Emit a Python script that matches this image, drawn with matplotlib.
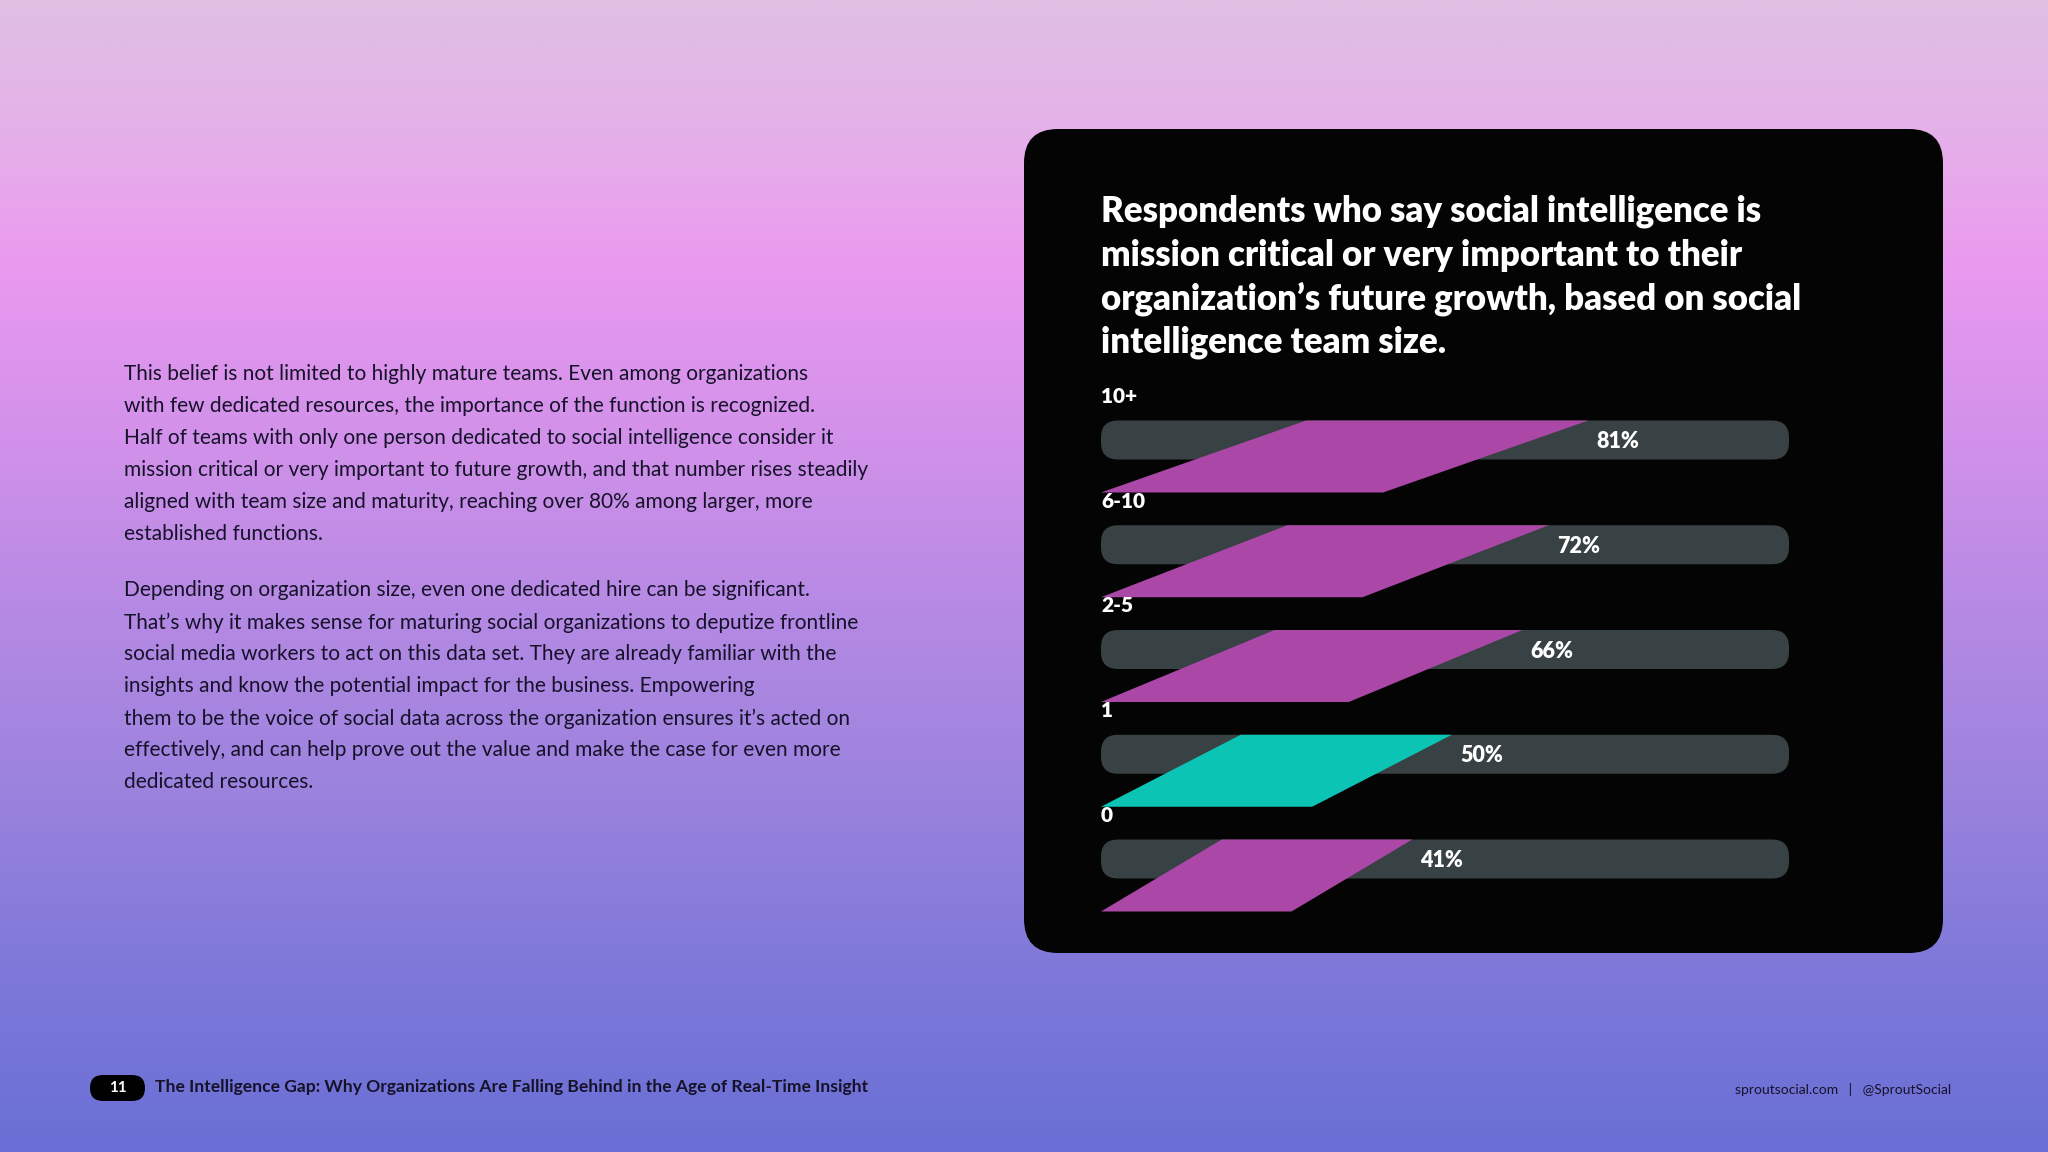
import numpy as np
import matplotlib
matplotlib.use("Agg")
import matplotlib.pyplot as plt
from matplotlib.patches import FancyBboxPatch, Polygon
from matplotlib.colors import LinearSegmentedColormap

# ---------------- data ----------------
categories = ["10+", "6-10", "2-5", "1", "0"]
values = [81, 72, 66, 50, 41]
value_labels = ["81%", "72%", "66%", "50%", "41%"]
highlight = [False, False, False, True, False]

title_lines = [
    "Respondents who say social intelligence is",
    "mission critical or very important to their",
    "organization\u2019s future growth, based on social",
    "intelligence team size.",
]
para1 = [
    "This belief is not limited to highly mature teams. Even among organizations",
    "with few dedicated resources, the importance of the function is recognized.",
    "Half of teams with only one person dedicated to social intelligence consider it",
    "mission critical or very important to future growth, and that number rises steadily",
    "aligned with team size and maturity, reaching over 80% among larger, more",
    "established functions.",
]
para2 = [
    "Depending on organization size, even one dedicated hire can be significant.",
    "That\u2019s why it makes sense for maturing social organizations to deputize frontline",
    "social media workers to act on this data set. They are already familiar with the",
    "insights and know the potential impact for the business. Empowering",
    "them to be the voice of social data across the organization ensures it\u2019s acted on",
    "effectively, and can help prove out the value and make the case for even more",
    "dedicated resources.",
]
footer_page = "11"
footer_title = "The Intelligence Gap: Why Organizations Are Falling Behind in the Age of Real-Time Insight"
footer_right = "sproutsocial.com   |   @SproutSocial"

# ---------------- style ----------------
FONT = ["Lato", "DejaVu Sans"]
plt.rcParams["font.family"] = FONT
MAGENTA = "#ab47a7"
TEAL = "#0bc4b4"
TRACK = "#384143"
PANEL = "#040404"
INK = "#16122a"

W, H = 2048, 1152
fig = plt.figure(figsize=(W / 100, H / 100), dpi=100)

# background axes in pixel coordinates
bg = fig.add_axes([0, 0, 1, 1])
bg.set_xlim(0, W)
bg.set_ylim(H, 0)
bg.axis("off")

stops = [
    (0.00, "#dfc0e3"),
    (0.12, "#e5afe9"),
    (0.23, "#ea99ef"),
    (0.38, "#d291ea"),
    (0.52, "#b78ae4"),
    (0.68, "#9c83de"),
    (0.85, "#7d78d9"),
    (1.00, "#6a6fd5"),
]
cmap = LinearSegmentedColormap.from_list("bg", stops)
grad = np.linspace(0, 1, 512).reshape(-1, 1)
bg.imshow(grad, cmap=cmap, aspect="auto", extent=[0, W, H, 0], zorder=0)

# black panel
panel = FancyBboxPatch((1024, 129), 919, 824,
                       boxstyle="round,pad=0,rounding_size=34",
                       facecolor=PANEL, edgecolor="none", zorder=1)
bg.add_patch(panel)

# title
for k, line in enumerate(title_lines):
    bg.text(1101, 211.5 + k * 43.6, line, color="white", fontsize=25,
            fontweight="heavy", va="center", ha="left", zorder=3)

# body text
for k, line in enumerate(para1):
    bg.text(124, 374.5 + k * 32, line, color=INK, fontsize=15,
            va="center", ha="left", zorder=3)
for k, line in enumerate(para2):
    bg.text(124, 590.5 + k * 32, line, color=INK, fontsize=15,
            va="center", ha="left", zorder=3)

# footer
pill = FancyBboxPatch((90, 1075), 55, 26,
                      boxstyle="round,pad=0,rounding_size=13",
                      facecolor="black", edgecolor="none", zorder=2)
bg.add_patch(pill)
bg.text(117.5, 1088, footer_page, color="white", fontsize=11,
        fontweight="bold", ha="center", va="center", zorder=3)
bg.text(155, 1087, footer_title, color=INK, fontsize=12.6,
        fontweight="bold", ha="left", va="center", zorder=3)
bg.text(1951, 1089, footer_right, color=INK, fontsize=10,
        ha="right", va="center", zorder=3)

# ---------------- chart axes ----------------
row_px = 104.75
x0_px, x1_px = 1101, 1789
top_px = 440 - 0.6 * row_px
bot_px = 440 + 4.6 * row_px
ax = fig.add_axes([x0_px / W, 1 - bot_px / H, (x1_px - x0_px) / W, (bot_px - top_px) / H])
ax.set_xlim(0, 100)
ax.set_ylim(4.6, -0.6)
ax.axis("off")
ax.patch.set_alpha(0)

px_per_x = (x1_px - x0_px) / 100.0
hh = 19.5 / row_px            # half track height (row units)
para_h = 72 / row_px          # parallelogram height
r_px = 17
r_x = r_px / px_per_x
aspect = (r_px / row_px) / r_x

for i, (cat, v, lab, hl) in enumerate(zip(categories, values, value_labels, highlight)):
    track = FancyBboxPatch((0, i - hh), 100, 2 * hh,
                           boxstyle=f"round,pad=0,rounding_size={r_x}",
                           mutation_aspect=aspect,
                           facecolor=TRACK, edgecolor="none", zorder=2)
    ax.add_patch(track)
    tr = 0.64 * v + 19.0        # top-right end of the slanted bar
    br = 0.3328 * v + 14.05     # bottom-right end
    tl = tr - br
    ytop = i - hh
    ybot = ytop + para_h
    poly = Polygon([(0, ybot), (tl, ytop), (tr, ytop), (br, ybot)],
                   closed=True, facecolor=TEAL if hl else MAGENTA,
                   edgecolor="none", zorder=3)
    ax.add_patch(poly)
    ax.text(tr + 1.2, i + 1.5 / row_px, lab, color="white", fontsize=15.5,
            fontweight="heavy", ha="left", va="center", zorder=4)
    ax.text(0, i - 43.5 / row_px, cat, color="white", fontsize=15,
            fontweight="heavy", ha="left", va="center", zorder=4)

fig.savefig("out.png", dpi=100)
